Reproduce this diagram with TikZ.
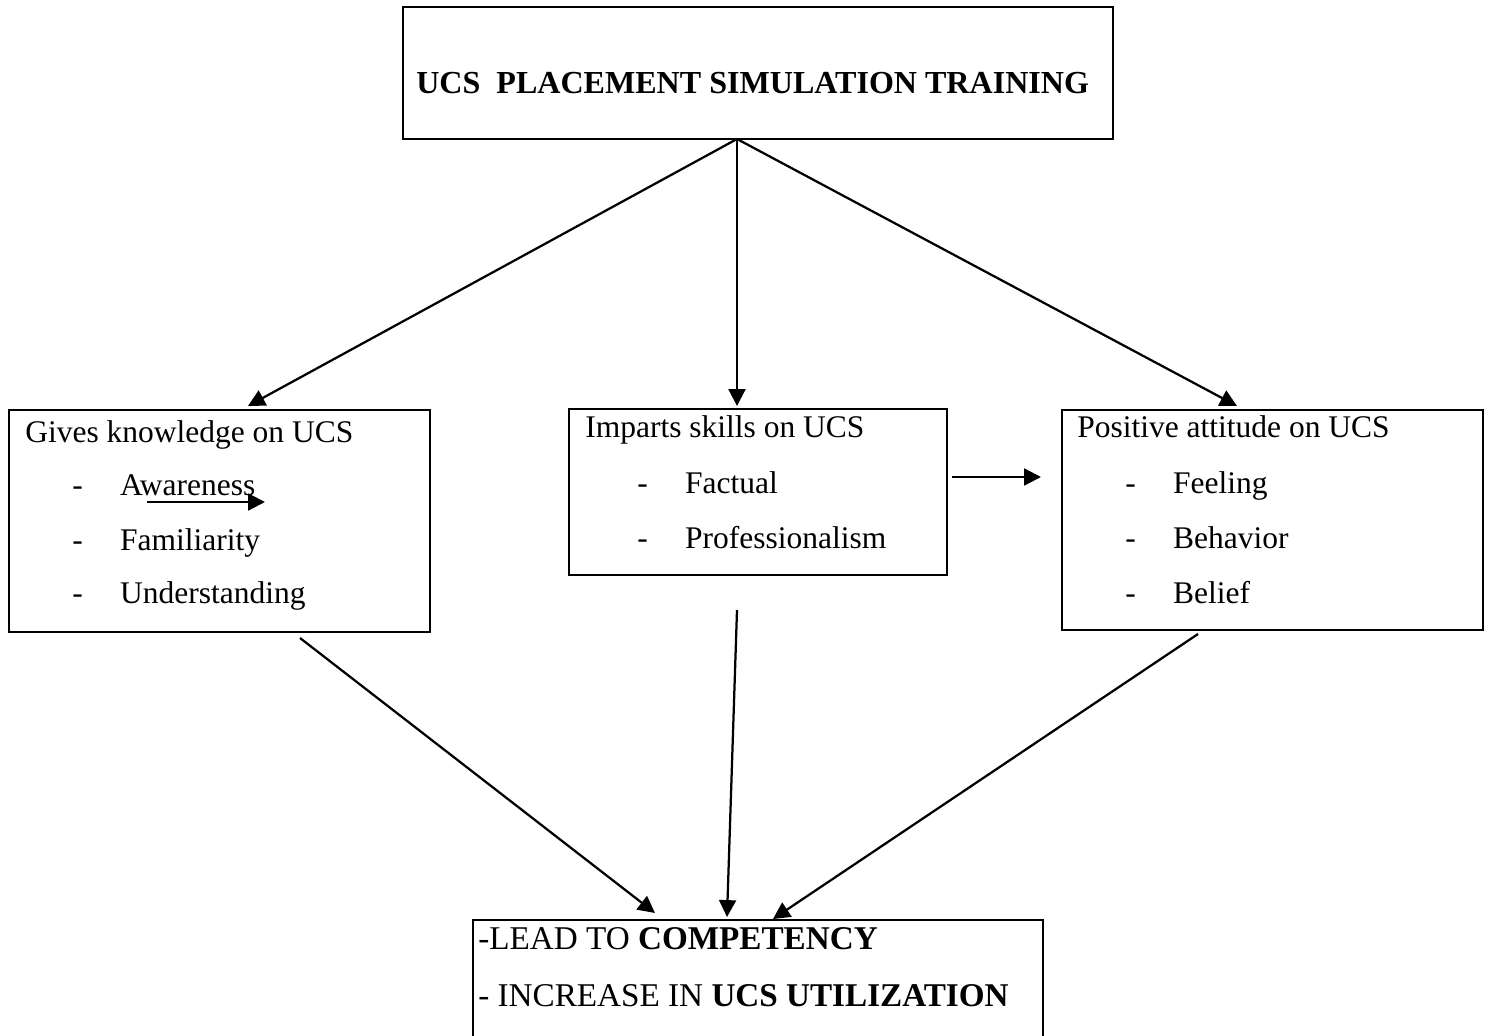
\documentclass[tikz,border=0pt]{standalone}
\usepackage{fontspec}
\setmainfont{Liberation Serif}
\usetikzlibrary{arrows.meta, fit}

\newcommand{\dashitem}[1]{\makebox[34pt][l]{-}#1}

\begin{document}
\begin{tikzpicture}[
  x=0.025cm, y=-0.025cm,
  box/.style={
    draw=black,
    line width=1.9pt,
    inner sep=0pt
  },
  line/.style={
    anchor=base west,
    inner sep=0pt,
    font=\fontsize{22.4}{26}\selectfont
  },
  heading/.style={line, font=\fontsize{22.8}{26}\selectfont\bfseries},
  result/.style={line, font=\fontsize{23.6}{27}\selectfont},
  arrow/.style={-{Triangle[length=12pt, width=12pt]}, line width=1.6pt}
]
  \path[use as bounding box, clip] (0,0) rectangle (1491,1036);

  % top
  \node[box, fit={(403,7) (1113,139)}] (training) {};
  \node[heading] (trainingtext) at (416,94) {UCS\ \ PLACEMENT SIMULATION TRAINING};

  % three boxes
  \node[box, fit={(9,410) (430,632)}] (knowledge) {};
  \node[line] (knowledgehead) at (25,442) {Gives knowledge on UCS};
  \node[line] (awareness) at (72,495) {\dashitem{Awareness}};
  \node[line] (familiarity) at (72,550) {\dashitem{Familiarity}};
  \node[line] (understanding) at (72,603) {\dashitem{Understanding}};

  \node[box, fit={(569,409) (947,575)}] (skills) {};
  \node[line] (skillshead) at (585,437) {Imparts skills on UCS};
  \node[line] (factual) at (637,493) {\dashitem{Factual}};
  \node[line] (professionalism) at (637,548) {\dashitem{Professionalism}};

  \node[box, fit={(1062,410) (1483,630)}] (attitude) {};
  \node[line] (attitudehead) at (1077,437) {Positive attitude on UCS};
  \node[line] (feeling) at (1125,493) {\dashitem{Feeling}};
  \node[line] (behavior) at (1125,548) {\dashitem{Behavior}};
  \node[line] (belief) at (1125,603) {\dashitem{Belief}};

  % bottom
  \node[box, fit={(473,920) (1043,1070)}] (outcome) {};
  \node[result] (competency) at (478,949) {-LEAD TO \textbf{COMPETENCY}};
  \node[result] (utilization) at (478,1006) {- INCREASE IN \textbf{UCS UTILIZATION}};

  % arrows
  \coordinate (apex) at (737,139);
  \coordinate (knowledgein) at (248,406);
  \coordinate (skillsin) at (737,406);
  \coordinate (attitudein) at (1237,406);
  \draw[arrow] (apex) -- (knowledgein);
  \draw[arrow] (apex) -- (skillsin);
  \draw[arrow] (apex) -- (attitudein);

  \coordinate (sideout) at (952,477);
  \coordinate (sidein) at (1041,477);
  \draw[arrow] (sideout) -- (sidein);
  \coordinate (strayout) at (147,502);
  \coordinate (strayin) at (265,502);
  \draw[arrow] (strayout) -- (strayin);

  \coordinate (knowledgeout) at (300,638);
  \coordinate (skillsout) at (737,610);
  \coordinate (attitudeout) at (1198,634);
  \coordinate (outcomeinl) at (655,913);
  \coordinate (outcomeinm) at (727,917);
  \coordinate (outcomeinr) at (773,919);
  \draw[arrow] (knowledgeout) -- (outcomeinl);
  \draw[arrow] (skillsout) -- (outcomeinm);
  \draw[arrow] (attitudeout) -- (outcomeinr);
\end{tikzpicture}
\end{document}
